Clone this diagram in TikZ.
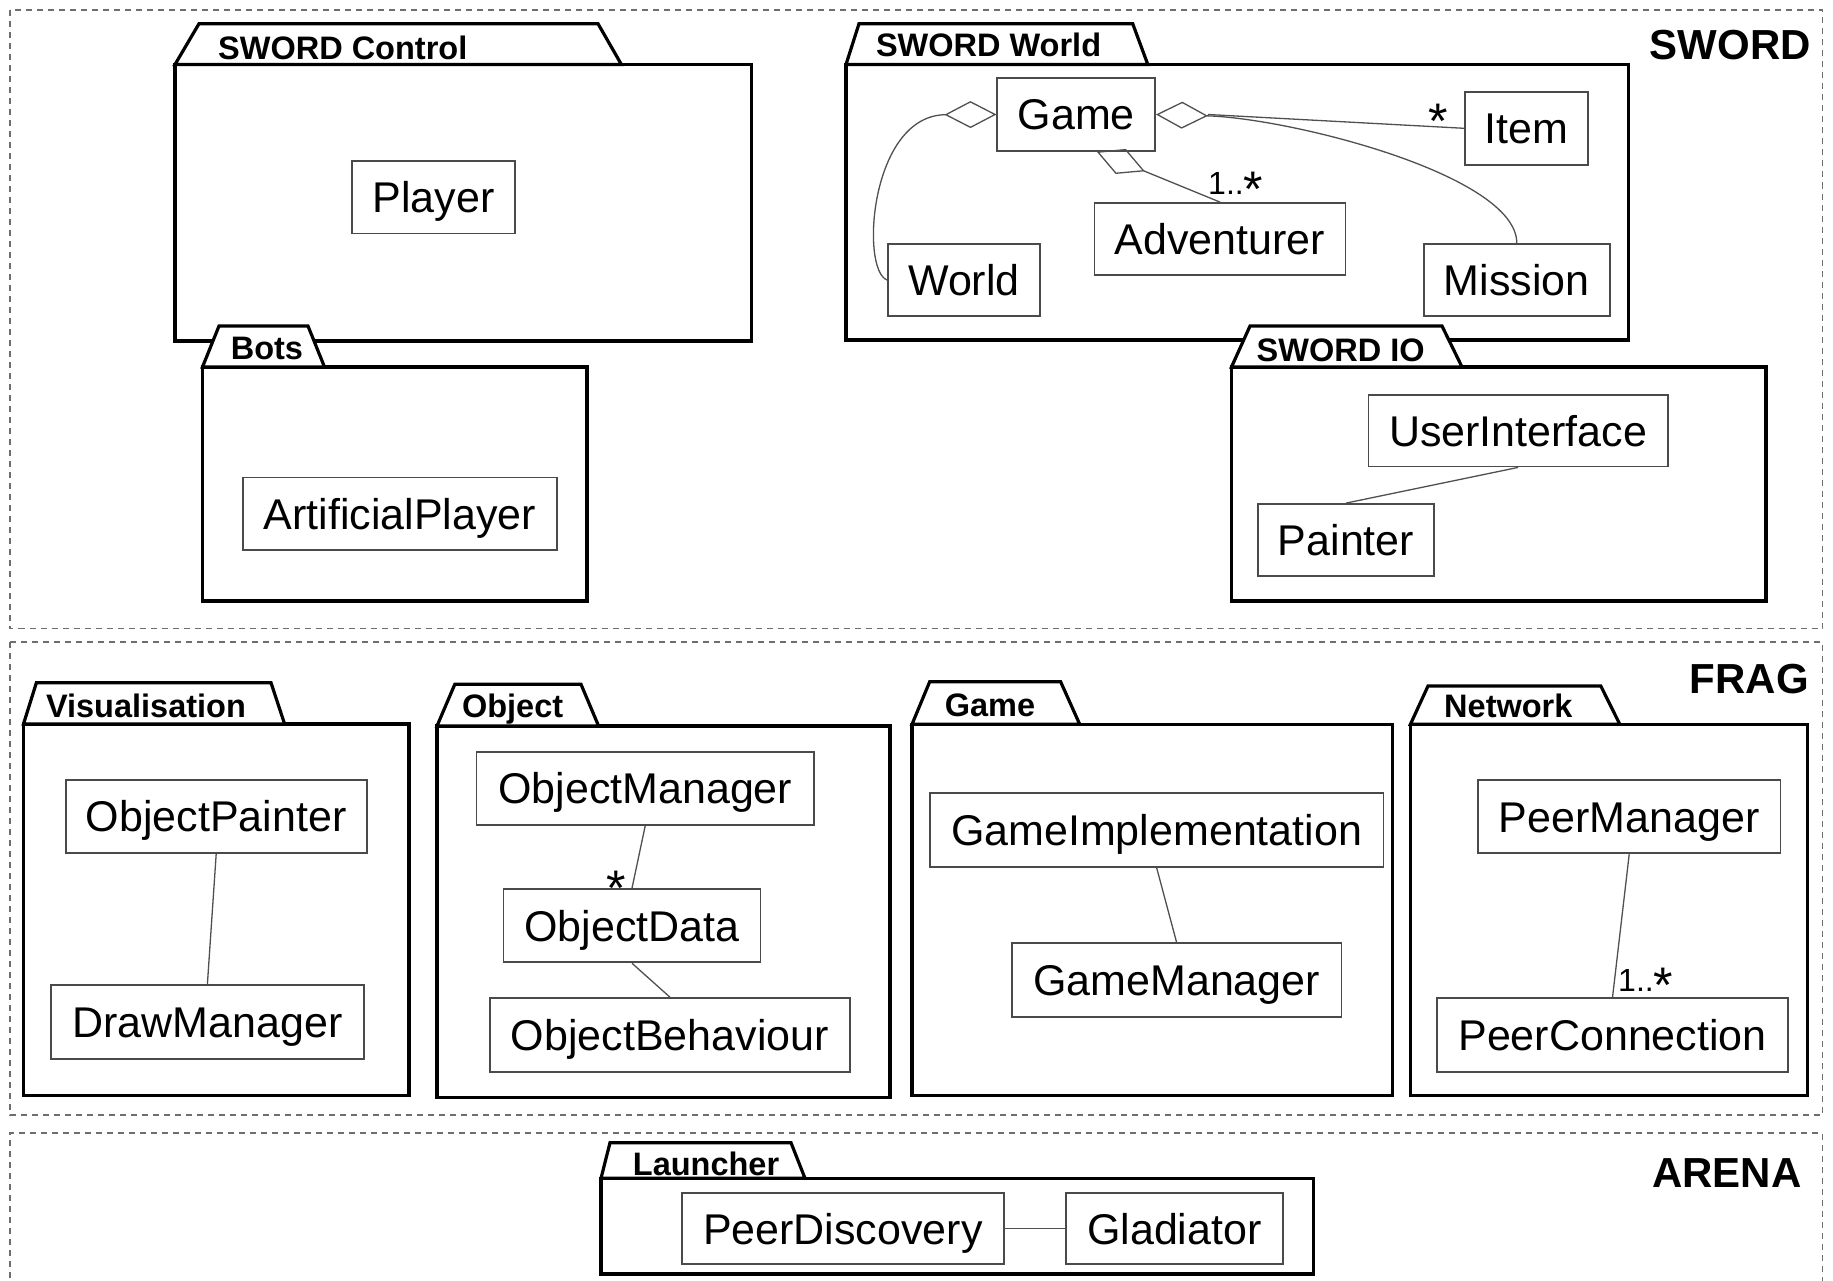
\documentclass[tikz,border=0pt]{standalone}
\usepackage{fontspec}
\setmainfont{Liberation Sans}
\usetikzlibrary{arrows.meta}
\definecolor{boxc}{HTML}{4A4A4A}
\definecolor{connc}{HTML}{505050}
\definecolor{dashc}{HTML}{6E6E6E}
\newcommand{\pkgbox}[8]{%
  \draw[pkgline] (#1,#2) rectangle (#3,#4);
  \draw[pkgline] (#1,#2) -- (#5,#8) -- (#6,#8) -- (#7,#2) -- cycle;
}
\newcommand{\bigstar}{\raisebox{-11.7pt}[22pt][0pt]{\fontsize{50}{50}\selectfont *}}
\begin{document}
\begin{tikzpicture}[x=1pt, y=-1pt,
  grp/.style={draw=dashc, line width=1.8pt, dash pattern=on 6pt off 5pt},
  grplabel/.style={font=\fontsize{42}{42}\selectfont\bfseries, inner sep=0pt, anchor=base east},
  pkgline/.style={draw=black, line width=3.2pt, fill=white, line join=miter},
  tablabel/.style={font=\fontsize{32.5}{32.5}\selectfont\bfseries, inner sep=0pt, anchor=base west},
  cls/.style={draw=boxc, line width=1.8pt, fill=white, inner sep=0pt,
    font=\fontsize{43}{43}\selectfont, text height=30.8pt, text depth=0pt},
  conn/.style={draw=connc, line width=1.3pt},
  agg/.style={conn, {Diamond[open, length=52pt, width=27pt]}-},
  mult/.style={font=\fontsize{32}{32}\selectfont, inner sep=0pt, anchor=base west}
]
\useasboundingbox (0,0) rectangle (1833,1281);
\fill[white] (0,0) rectangle (1833,1281);

% layer groups
\draw[grp] (10,10) rectangle (1822.5,628.5);
\draw[grp] (10,642) rectangle (1822.5,1115);
\draw[grp] (10,1300) -- (10,1133.3) -- (1822.5,1133.3) -- (1822.5,1300);
\node[grplabel] (lsword) at (1811,59.2) {SWORD};
\node[grplabel] (lfrag) at (1809,693.3) {FRAG};
\node[grplabel] (larena) at (1801.7,1187.3) {ARENA};

% packages
\pkgbox{175}{64.5}{751.5}{341}{199}{598}{621.4}{23.7}
\node[tablabel] (lcontrol) at (218,59.2) {SWORD Control};
\pkgbox{202.5}{367}{587}{601}{219}{308}{324.5}{326}
\node[tablabel] (lbots) at (230.6,359) {Bots};
\pkgbox{846}{64.5}{1628.7}{340}{859}{1132.7}{1147.8}{23.7}
\node[tablabel] (lworld) at (875.8,57) {SWORD World};
\pkgbox{1231.5}{367}{1766}{601}{1250}{1442}{1462}{326}
\node[tablabel] (lio) at (1256.5,361) {SWORD IO};
\pkgbox{23.5}{724}{409}{1095.7}{36.4}{271}{284.6}{682.7}
\node[tablabel] (lvis) at (45.8,717) {Visualisation};
\pkgbox{437}{726}{890}{1097.7}{454.8}{581}{598.6}{684.3}
\node[tablabel] (lobj) at (461.8,717.3) {Object};
\pkgbox{912}{724.3}{1392.6}{1095.7}{929.7}{1060.6}{1079.7}{681.7}
\node[tablabel] (lgame) at (944.6,716) {Game};
\pkgbox{1410.4}{724.3}{1807.2}{1095.7}{1428}{1600.8}{1619.8}{686}
\node[tablabel] (lnet) at (1444,717.3) {Network};
\pkgbox{601}{1178.3}{1313.3}{1274}{610}{791}{805}{1142.7}
\node[tablabel] (llaunch) at (632.7,1175) {Launcher};

% classes
\node[cls, minimum width=163pt, minimum height=72.5pt] (player) at (433.5,197.25) {Player};
\node[cls, minimum width=314pt, minimum height=72.5pt] (aplayer) at (400,513.75) {ArtificialPlayer};
\node[cls, minimum width=157.7pt, minimum height=72.4pt] (game) at (1076.2,114.5) {Game};
\node[cls, minimum width=122.7pt, minimum height=73.3pt] (item) at (1526.3,128.3) {Item};
\node[cls, minimum width=251pt, minimum height=72pt] (adv) at (1220,239) {Adventurer};
\node[cls, minimum width=152pt, minimum height=72pt] (world) at (964,280) {World};
\node[cls, minimum width=185.6pt, minimum height=72pt] (mission) at (1516.8,280) {Mission};
\node[cls, minimum width=299.5pt, minimum height=71.8pt] (ui) at (1518.2,430.6) {UserInterface};
\node[cls, minimum width=176pt, minimum height=72pt] (painter) at (1346,540) {Painter};
\node[cls, minimum width=301pt, minimum height=73pt] (op) at (216.2,816.5) {ObjectPainter};
\node[cls, minimum width=312.8pt, minimum height=74pt] (dm) at (207.4,1022) {DrawManager};
\node[cls, minimum width=337.5pt, minimum height=73.3pt] (om) at (645.2,788.3) {ObjectManager};
\node[cls, minimum width=257pt, minimum height=73.3pt] (od) at (632,925.7) {ObjectData};
\node[cls, minimum width=359.8pt, minimum height=74.3pt] (ob) at (669.9,1035.2) {ObjectBehaviour};
\node[cls, minimum width=453.9pt, minimum height=74pt] (gi) at (1156.6,829.7) {GameImplementation};
\node[cls, minimum width=329.6pt, minimum height=74pt] (gm) at (1176.6,980.3) {GameManager};
\node[cls, minimum width=302.4pt, minimum height=73.3pt] (pm) at (1629.2,816.7) {PeerManager};
\node[cls, minimum width=351pt, minimum height=74pt] (pc) at (1612.5,1035.3) {PeerConnection};
\node[cls, minimum width=322.3pt, minimum height=71pt] (pd) at (842.85,1228.8) {PeerDiscovery};
\node[cls, minimum width=216.7pt, minimum height=71pt] (glad) at (1174.35,1228.8) {Gladiator};

% connectors
\coordinate (gr) at ([xshift=52pt]game.east);
\draw[agg] (game.west) .. controls (870,115) and (860,270) .. (world.west);
\draw[agg] (game.east) .. controls (1290,118) and (1516.7,175) .. (mission.north);
\draw[conn] (gr) -- (item.west);
\draw[agg] ([xshift=20.5pt]game.south) -- (adv.north);
\draw[conn] (ui.south) -- (painter.north);
\draw[conn] (op.south) -- (dm.north);
\draw[conn] (om.south) -- (od.north);
\draw[conn] (od.south) -- (ob.north);
\draw[conn] (gi.south) -- (gm.north);
\draw[conn] (pm.south) -- (pc.north);
\draw[conn] (pd.east) -- (glad.west);

% multiplicities
\node[mult, anchor=base] (mitem) at (1438.3,126.6) {\bigstar};
\node[mult] (madv) at (1208,195) {1..\bigstar};
\node[mult, anchor=base] (mod) at (616.2,893.3) {\bigstar};
\node[mult] (mpc) at (1618,991) {1..\bigstar};
\end{tikzpicture}
\end{document}
